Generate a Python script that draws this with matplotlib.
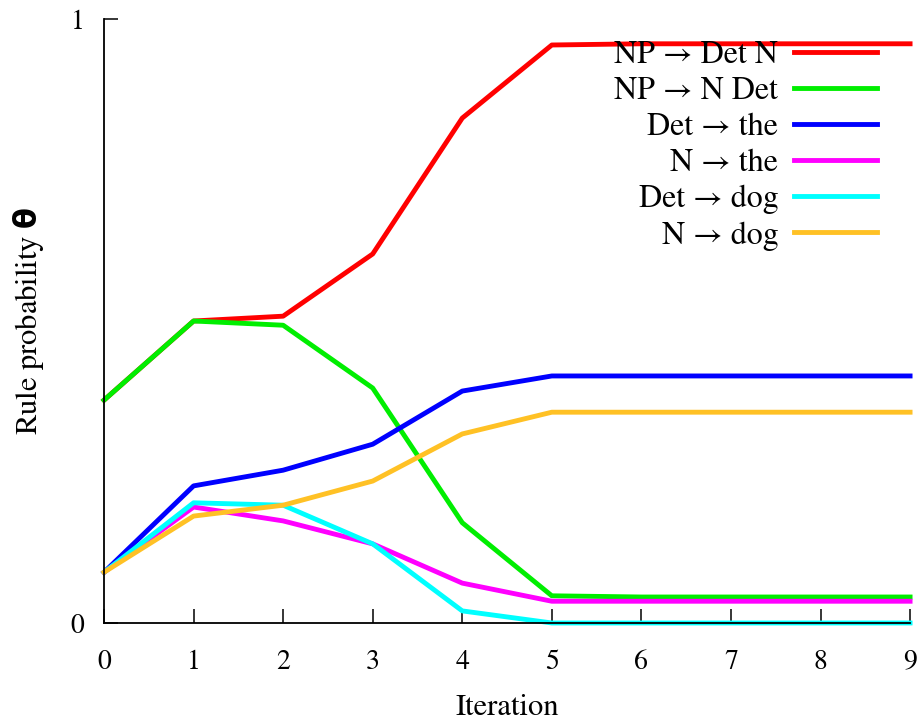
import numpy as np
import matplotlib.pyplot as plt

iterations = [0, 1, 2, 3, 4, 5, 6, 7, 8, 9]
np_det_n = [0.369, 0.500, 0.508, 0.611, 0.836, 0.957, 0.959, 0.959, 0.959, 0.959]
np_n_det = [0.369, 0.500, 0.493, 0.389, 0.166, 0.045, 0.043, 0.043, 0.043, 0.043]
det_the = [0.084, 0.227, 0.253, 0.296, 0.384, 0.409, 0.409, 0.409, 0.409, 0.409]
n_the = [0.084, 0.192, 0.169, 0.131, 0.066, 0.036, 0.036, 0.036, 0.036, 0.036]
det_dog = [0.084, 0.199, 0.195, 0.131, 0.020, 0.000, 0.000, 0.000, 0.000, 0.000]
n_dog = [0.084, 0.177, 0.195, 0.235, 0.313, 0.349, 0.349, 0.349, 0.349, 0.349]

labels = ['NP → Det N', 'NP → N Det', 'Det → the', 'N → the', 'Det → dog', 'N → dog']
colors = ['#ff0000', '#00ee00', '#0000ff', '#ff00ff', '#00ffff', '#ffc125']
series = [np_det_n, np_n_det, det_the, n_the, det_dog, n_dog]

plt.rcParams['font.family'] = ['STIXGeneral', 'DejaVu Sans']

fig = plt.figure(figsize=(9.23, 7.26), dpi=100)
ax = fig.add_axes([0.1127, 0.1419, 0.8733, 0.8319])

for vals, lab, col in zip(series, labels, colors):
    ax.plot(iterations, vals, color=col, lw=3.5, label=lab, clip_on=False, zorder=2)

ax.set_xlim(0, 9)
ax.set_ylim(0, 1)
ax.set_xticks(iterations)
ax.set_yticks([0, 1])
ax.set_yticklabels(['0', '1'])
ax.spines['top'].set_visible(False)
ax.spines['right'].set_visible(False)
for s in ['left', 'bottom']:
    ax.spines[s].set_linewidth(1.3)
    ax.spines[s].set_zorder(3)
ax.tick_params(axis='both', direction='in', length=10, width=1.1, labelsize=20)
ax.tick_params(axis='x', pad=19)
ax.tick_params(axis='y', pad=14)

ax.set_xlabel('Iteration', fontsize=22, labelpad=14)
ax.set_ylabel(r'Rule probability $\mathbf{\theta}$', fontsize=22, labelpad=18,
              math_fontfamily='dejavusans')

ax.legend(loc='upper right', bbox_to_anchor=(0.995, 1.012), frameon=False, markerfirst=False,
          fontsize=23, handlelength=2.6, labelspacing=0.21, handletextpad=0.5)

plt.savefig('out.png', dpi=100)
